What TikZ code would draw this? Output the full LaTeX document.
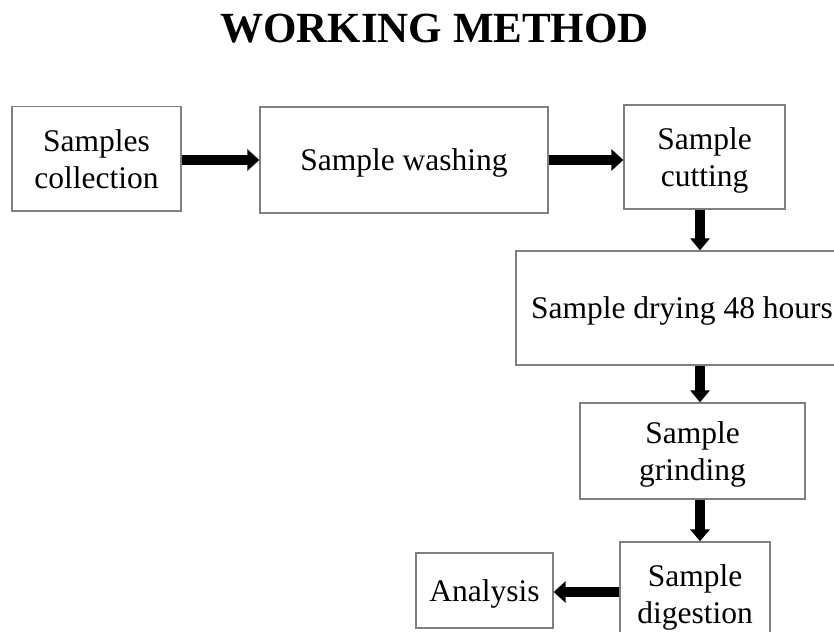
\documentclass[tikz,border=0pt]{standalone}
\usepackage{fontspec}
\setmainfont{Liberation Serif}
\usetikzlibrary{arrows.meta}
\definecolor{boxgray}{RGB}{128,128,128}
\begin{document}
\begin{tikzpicture}[x=1pt,y=-1pt,
  box/.style={draw=boxgray, line width=1.3pt, inner sep=0pt, align=center, text depth=0pt,
    font=\fontsize{31.5}{37}\selectfont},
  arr/.style={line width=10.5pt, draw=black, -{Triangle[length=12pt,width=21pt]}},
  varr/.style={line width=10pt, draw=black, -{Triangle[length=12pt,width=19pt]}}]
\useasboundingbox (0,0) rectangle (834,631);
\clip (0,0) rectangle (834,631);
\node[anchor=base, font=\bfseries\fontsize{43}{50}\selectfont] (title) at (434.5,43) {WORKING METHOD};
\node[box, minimum width=169pt, minimum height=104.5pt] (col) at (96.5,158.75) {Samples\\collection};
\node[box, minimum width=288pt, minimum height=106pt] (wash) at (404,160) {Sample washing};
\node[box, minimum width=161pt, minimum height=104pt] (cut) at (704.5,157) {Sample\\cutting};
\node[box, minimum width=332pt, minimum height=114pt] (dry) at (682,308) {Sample drying 48 hours};
\node[box, minimum width=225pt, minimum height=96pt] (grind) at (692.5,451) {Sample\\grinding};
\node[box, minimum width=150pt, minimum height=104pt] (dig) at (695,594) {Sample\\digestion};
\node[box, minimum width=137pt, minimum height=75pt] (ana) at (484.5,590.5) {Analysis};
\coordinate (row) at (0,160);
\coordinate (colx) at (700,0);
\coordinate (low) at (0,592);
\draw[arr] (col.east |- row) -- (wash.west |- row);
\draw[arr] (wash.east |- row) -- (cut.west |- row);
\draw[varr] (cut.south -| colx) -- (dry.north -| colx);
\draw[varr] (dry.south -| colx) -- (grind.north -| colx);
\draw[varr] (grind.south -| colx) -- (dig.north -| colx);
\draw[arr] (dig.west |- low) -- (ana.east |- low);
\end{tikzpicture}
\end{document}
